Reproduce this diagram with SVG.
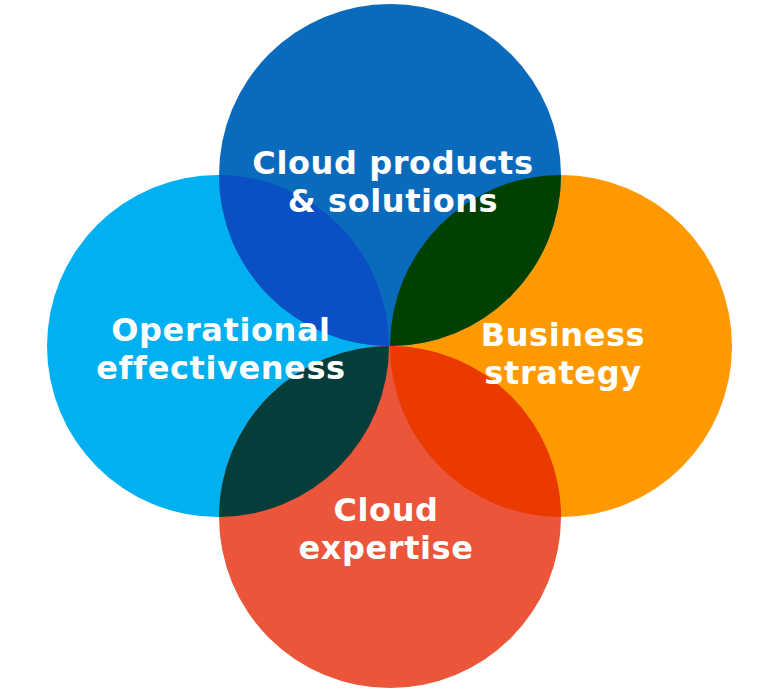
<svg xmlns="http://www.w3.org/2000/svg" width="782" height="693" viewBox="0 0 782 693">
<style>
text{font-family:"DejaVu Sans","Liberation Sans",sans-serif;font-weight:700;font-size:32px;letter-spacing:0.6px;fill:#fff;text-anchor:middle}
</style>
<defs>
<clipPath id="cT"><circle cx="390" cy="175" r="171"/></clipPath>
<clipPath id="cB"><circle cx="390" cy="517" r="171"/></clipPath>
</defs>
<g id="circles">
<g id="left"><circle cx="218" cy="346" r="171" fill="#00B0F0"/></g>
<g id="right"><circle cx="561" cy="346" r="171" fill="#FE9A00"/></g>
<g id="top"><circle cx="390" cy="175" r="171" fill="#0A6BBD"/></g>
<g id="bottom"><circle cx="390" cy="517" r="171" fill="#EB553A"/></g>
</g>
<g id="overlaps">
<circle cx="218" cy="346" r="171" fill="#0A4FC4" clip-path="url(#cT)"/>
<circle cx="561" cy="346" r="171" fill="#014100" clip-path="url(#cT)"/>
<circle cx="218" cy="346" r="171" fill="#053D3A" clip-path="url(#cB)"/>
<circle cx="561" cy="346" r="171" fill="#EB3A00" clip-path="url(#cB)"/>
</g>
<g id="labels">
<text x="393" y="174">Cloud products</text>
<text x="393" y="212">&amp; solutions</text>
<text x="221" y="341">Operational</text>
<text x="221" y="379">effectiveness</text>
<text x="563" y="346">Business</text>
<text x="563" y="384">strategy</text>
<text x="386" y="521">Cloud</text>
<text x="386" y="559">expertise</text>
</g>
</svg>
